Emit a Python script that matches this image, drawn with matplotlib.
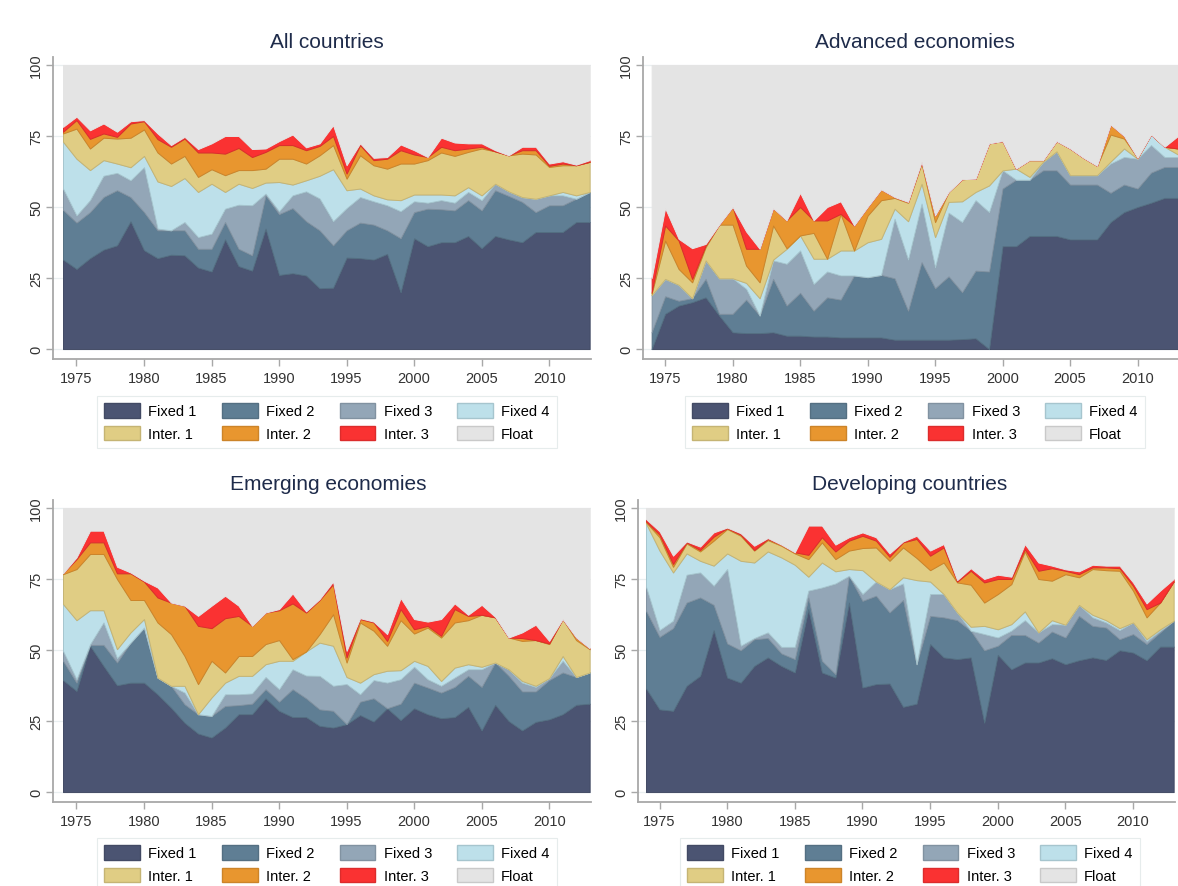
import numpy as np
import matplotlib
matplotlib.use("Agg")
import matplotlib.pyplot as plt
from matplotlib.patches import Patch
from matplotlib.colors import to_rgb

plt.rcParams['font.family'] = ['Liberation Sans', 'DejaVu Sans']

years = np.arange(1974, 2014)

layer_names = ['Fixed 1', 'Fixed 2', 'Fixed 3', 'Fixed 4',
               'Inter. 1', 'Inter. 2', 'Inter. 3', 'Float']
layer_colors = ['#4b5472', '#5f7e94', '#93a6b7', '#bde0ea',
                '#e0cd84', '#e8962f', '#fa3232', '#e4e4e4']

# values are the stacked (cumulative) tops of each regime, in percent
# --- All countries
all_f1 = [31.5, 28.2, 32, 35, 36.5, 45, 34.8, 32, 33.2, 33,
          28.7, 27.3, 38.6, 29.2, 27.6, 42.4, 26.1, 26.7, 25.9, 21.4,
          21.6, 32.2, 32, 31.5, 33.5, 20, 39, 36.2, 37.6, 37.6,
          39.8, 35.5, 39.8, 38.6, 37.6, 41.2, 41.2, 41.2, 44.7, 44.7]
all_f2 = [49, 44.5, 48.2, 53.5, 55.9, 53.5, 48.2, 41.8, 41.8, 41.8,
          35.3, 35.3, 44.7, 35.3, 33, 54.1, 47.5, 49.6, 45, 41.8,
          36.5, 41.8, 44.5, 43.8, 41.8, 39, 48.2, 49.4, 49.2, 48.8,
          52.4, 48.8, 55.9, 53.9, 51.8, 48.2, 50.6, 50.6, 52.9, 55.3]
all_f3 = [56.5, 47, 52.4, 61, 62, 59.4, 64, 42.4, 41.8, 44.7,
          39.4, 40.6, 49.4, 50.8, 50.6, 54.7, 48.5, 54.1, 55.5, 53,
          45, 49.6, 53.5, 52, 50.6, 48.5, 52, 51.5, 52.4, 51.5,
          55.3, 52.4, 58.2, 55.5, 53.5, 52.9, 54.1, 54.1, 52.9, 55.3]
all_f4 = [73, 67, 63, 66.5, 65.3, 64, 68, 59, 57.4, 60.2,
          55.3, 58.2, 55.3, 58.2, 56.7, 58.6, 58.8, 57.9, 59.4, 61,
          63.3, 55.9, 56.5, 54.1, 52.7, 52.4, 54.4, 54.4, 54.4, 54.1,
          57, 54.1, 58.2, 55.5, 53.5, 52.9, 54.1, 55.3, 54.1, 55.3]
all_i1 = [75.9, 77.6, 70.6, 74.4, 74.1, 74.4, 77.3, 69.2, 65.3, 68,
          60.6, 63.3, 61.2, 63, 63, 63.5, 67, 67, 65.3, 68.2,
          71.8, 60, 68.2, 64.7, 63.5, 65.3, 65.3, 66.5, 69.2, 68,
          69.4, 70.6, 69.6, 68.2, 68.8, 68.5, 64.1, 64.7, 64.7, 65.9]
all_i2 = [76.5, 80.6, 74, 75.9, 74.7, 79.4, 80.2, 73.9, 71.2, 74.1,
          69.2, 69.2, 68.8, 70.8, 67.6, 69.4, 71.8, 71.8, 70, 71.5,
          75, 61.8, 71.8, 66.5, 67, 70, 68.5, 67.6, 71.2, 70,
          70.6, 71.2, 69.6, 68.2, 70, 70, 64.5, 65.3, 64.7, 65.9]
all_i3 = [78.2, 81.8, 77, 79.4, 76.5, 80.2, 80.6, 75.9, 71.8, 74.7,
          70.4, 72.4, 75, 75, 70.4, 70.6, 73.2, 75.5, 71, 72.4,
          78.8, 64.7, 72.4, 67.3, 67.6, 72, 70, 67.6, 74.4, 72.7,
          72.4, 72.4, 70, 68.2, 71.2, 71.2, 65.3, 66.1, 64.9, 66.5]

# --- Advanced economies
adv_f1 = [0, 12.4, 15.3, 16.5, 18.2, 11.8, 5.9, 5.6, 5.6, 5.9,
          4.7, 4.7, 4.4, 4.4, 4.1, 4.1, 4.1, 4.1, 3.3, 3.3,
          3.3, 3.3, 3.3, 3.5, 3.8, 0, 36.2, 36.2, 39.8, 39.8,
          39.8, 38.6, 38.6, 38.6, 44.7, 48.2, 50, 51.5, 53.2, 53.2]
adv_f2 = [5.9, 18.6, 17, 17.9, 24.7, 12.4, 12.4, 17.4, 11.8, 24.7,
          15.3, 19.8, 13.5, 18.2, 17.4, 25.9, 25.3, 26.1, 24.9, 13.5,
          30.6, 21.4, 25.6, 20, 27.6, 27.3, 56.5, 59.6, 59.6, 62.9,
          62.9, 57.9, 57.9, 57.9, 55, 57.9, 56.5, 62.1, 64.1, 64.1]
adv_f3 = [19, 24.7, 22.6, 17.9, 31.2, 24.9, 24.9, 21.2, 11.8, 31.2,
          30, 34.7, 22.9, 27.3, 25.9, 25.9, 25.3, 26.1, 45.9, 31.5,
          51.2, 28.8, 48, 44.7, 52.4, 48.2, 62.9, 59.6, 59.6, 65.9,
          69.6, 61.2, 61.2, 61.2, 65.3, 67.6, 67, 71.8, 67.6, 67.6]
adv_f4 = [19, 24.7, 22.6, 17.9, 31.2, 24.9, 24.9, 23.3, 17.9, 31.5,
          35.3, 40, 31.8, 31.8, 34.7, 34.7, 37.6, 38.8, 49.4, 45,
          58.2, 39.4, 51.8, 52, 55.3, 57.6, 62.9, 63.5, 60.6, 65.9,
          69.6, 61.2, 61.2, 61.2, 66, 70.6, 67, 75.5, 71.2, 68.5]
adv_i1 = [19.5, 38.2, 28.2, 23.5, 35.9, 43.8, 43.8, 29.4, 23.5, 43.5,
          35.5, 40, 40.9, 31.8, 47.6, 34.7, 47, 52.4, 53.2, 51.5,
          65.3, 44.7, 55.3, 59.8, 60, 72.4, 73.2, 63.5, 66.5, 66.5,
          73.2, 70.6, 67.3, 64.5, 75.5, 74.1, 67.3, 75.5, 71.2, 70.6]
adv_i2 = [20, 43.5, 38.2, 24.7, 36.5, 43.8, 50, 35.3, 35.3, 49.6,
          45.3, 50, 45.3, 45.3, 47.6, 43.5, 50, 56.2, 53.5, 51.8,
          65.9, 47, 55.3, 59.8, 60, 72.4, 73.2, 63.5, 66.5, 66.5,
          73.2, 70.6, 67.3, 64.5, 79, 75, 67.3, 75.5, 71.2, 70.6]
adv_i3 = [25, 49.6, 38.8, 35.5, 37, 43.8, 50, 41.4, 35.3, 49.6,
          45.3, 55, 45.3, 50, 52, 43.5, 50, 56.2, 53.5, 51.8,
          65.9, 47, 55.3, 59.8, 60, 72.4, 73.2, 63.5, 66.5, 66.5,
          73.2, 70.6, 67.3, 64.5, 79, 75, 67.3, 75.5, 71.2, 75]

# --- Emerging economies
em_f1 = [39.4, 35.6, 51.5, 44.4, 37.6, 38.5, 38.5, 34.4, 29.7, 24.4,
         20.6, 19.2, 22.7, 27.4, 27.4, 33, 28.6, 26.4, 26.4, 23.3,
         22.7, 23.9, 27.1, 24.8, 29.5, 25.3, 29.5, 27.4, 26, 26.4,
         30, 21.7, 30.7, 25, 21.7, 24.7, 25.6, 27.4, 30.7, 31.1]
em_f2 = [46.2, 38.5, 51.8, 51.8, 45.6, 52.6, 57.9, 40.3, 37.4, 30.9,
         27.4, 26.8, 30.3, 30.6, 31.1, 36.2, 31.8, 36.2, 33, 29.1,
         28.6, 23.9, 31.8, 33, 29.1, 31.1, 38.5, 36.8, 35, 37,
         40.9, 37, 45.6, 40.9, 35.4, 35.4, 39.4, 42.1, 40.5, 42.1]
em_f3 = [49.7, 39.7, 52, 59.7, 47.1, 52.6, 57.9, 40.3, 37.4, 35,
         27.4, 26.8, 34.4, 34.4, 34.7, 40.5, 36.2, 43.2, 41, 40.9,
         37.4, 38, 34.4, 39.4, 38.5, 39.7, 44.1, 39.7, 37.4, 40.3,
         43.2, 43.2, 45.6, 43.2, 38.5, 37, 40.1, 46.2, 40.5, 42.1]
em_f4 = [66.2, 60.5, 64, 64, 50.3, 56.2, 60.9, 40.3, 37.4, 37.4,
         27.4, 33.3, 38.5, 40.9, 40.9, 45, 46.2, 46.2, 49.5, 52.6,
         51.5, 40.5, 38.5, 41.5, 42.7, 42.9, 46.2, 44.4, 39.1, 43.8,
         45, 44.1, 45.6, 43.2, 39.1, 37.4, 40.1, 47.9, 40.5, 42.1]
em_i1 = [76.7, 78.5, 83.8, 83.8, 75, 67.6, 67.6, 59.7, 55.6, 47.9,
         38, 46.2, 42.1, 47.9, 47.9, 52.1, 53.5, 46.8, 49.5, 55.6,
         62.6, 45.6, 59.7, 56.8, 51.5, 60.5, 55.8, 57.9, 54.4, 59.7,
         60.5, 62.4, 61.5, 54.4, 53.2, 53.5, 52.1, 60.9, 53.5, 50.3]
em_i2 = [77, 82, 87.9, 87.9, 77, 77, 74.1, 68.5, 66.7, 65.6,
         58.5, 57.7, 61.2, 62, 58.5, 63.2, 64, 66.4, 63.2, 67.6,
         73.2, 47.4, 60.9, 59.7, 53.2, 64.4, 57.3, 58.5, 55, 64.4,
         62, 62.4, 61.5, 54.4, 54.2, 53.5, 52.3, 60.9, 54.4, 50.6]
em_i3 = [77, 82.6, 92, 92, 79.3, 77.3, 74.4, 72, 66.7, 65.6,
         62, 65.6, 69.1, 65.6, 58.5, 63.2, 64.4, 69.9, 63.6, 67.9,
         74.1, 49.7, 61.2, 60, 55.6, 68.3, 60.9, 60, 60.9, 66.4,
         62.4, 65.9, 61.7, 54.4, 56.2, 58.9, 53.2, 60.9, 53.8, 50.6]

# --- Developing countries
dev_f1 = [36.5, 29.1, 28.6, 37.4, 40.9, 57, 40.3, 38.5, 44.4, 47.4,
          44.4, 42.1, 64.4, 42.1, 40.3, 66.7, 36.8, 38, 38.2, 30,
          31.1, 52.1, 47.4, 46.8, 47.4, 24.4, 48.3, 43.2, 45.6, 45.6,
          47.1, 45, 46.4, 47.4, 46.5, 49.9, 49.1, 46.4, 51.2, 51.2]
dev_f2 = [63.8, 54.6, 57.7, 66.7, 68.5, 65.9, 52.3, 49.9, 53.8, 54.2,
          48.8, 46.8, 68.5, 46.2, 41.5, 76.1, 67.3, 69.1, 63.2, 67.6,
          45, 62, 61.5, 60.5, 56.8, 49.9, 51.5, 55.3, 55.3, 52.6,
          56.5, 54.4, 62, 58.5, 57.9, 53.8, 55.6, 52.1, 56.2, 60.3]
dev_f3 = [72.3, 57, 60.3, 76.5, 77.3, 72.6, 78.5, 51.5, 54.2, 56.2,
          51.1, 51.1, 70.9, 72, 73.4, 76.1, 69.7, 74.1, 71.4, 73.4,
          45, 69.7, 69.7, 63.2, 56.8, 55.6, 54.4, 56.8, 60.5, 56.2,
          59.1, 58.9, 65.9, 61.5, 59.7, 57, 59.7, 53.2, 56.8, 60.3]
dev_f4 = [94.6, 85, 77.3, 84, 81.4, 79.7, 84, 81.4, 80.8, 84.7,
          82.6, 80, 75.8, 80.8, 77.7, 78.5, 78.1, 74.1, 71.4, 75.6,
          74.6, 74.1, 69.7, 63.2, 58.2, 58.5, 57.3, 59.1, 63.6, 56.2,
          60.5, 58.9, 65.9, 62.4, 60.5, 57.7, 59.7, 53.8, 57.3, 60.3]
dev_i1 = [95, 89.7, 79.3, 87.5, 84.7, 88.5, 92.6, 90.2, 85, 88.7,
          86.7, 84, 82, 87.9, 82, 85, 85.9, 86.1, 81.4, 86.1,
          82.4, 78.1, 80.8, 73.8, 73, 66.7, 69.7, 73.2, 84.7, 75,
          74.4, 76.7, 75.6, 78.5, 78.1, 77.9, 70.9, 61.5, 66.7, 74.1]
dev_i2 = [95.3, 90.6, 80.3, 87.9, 85.2, 89.9, 92.9, 90.6, 85.2, 89.1,
          87.1, 84.4, 83.5, 89.7, 84.7, 88.5, 90.2, 88.5, 82.8, 87.9,
          89.1, 83.2, 86.1, 74.1, 77.9, 73.8, 75, 75, 85.5, 77.9,
          78.8, 77.9, 76.7, 79.1, 79.1, 78.8, 72.6, 64.4, 66.7, 74.1]
dev_i3 = [96.1, 91.8, 83.2, 88.2, 86.4, 91.4, 93.1, 91.1, 86.7, 89.4,
          87.1, 84.4, 93.8, 93.8, 87.1, 89.7, 91.4, 89.7, 84, 88.2,
          90.2, 85, 87.3, 74.6, 78.8, 75, 76.5, 75.8, 87.3, 80.8,
          79.7, 78.4, 77.7, 80, 79.7, 79.7, 73.8, 66.4, 70.9, 75]

W, H = 1178, 887


def darker(c, f=0.88):
    r, g, b = to_rgb(c)
    return (r * f, g * f, b * f)


def draw_panel(rect, xlim, title, title_xy, legend_xy, tops):
    # rect in pixels: left, top, right, bottom
    l, t, r, b = rect
    ax = plt.gcf().add_axes([l / W, 1 - b / H, (r - l) / W, (b - t) / H])
    ax.set_xlim(*xlim)
    ax.set_ylim(-3.5, 102.8)
    ax.set_yticks([0, 25, 50, 75, 100])
    ax.set_xticks(range(1975, 2011, 5))
    for v in [0, 25, 50, 75, 100]:
        ax.axhline(v, color='#e9eff0', lw=0.9, zorder=0)

    levels = [np.zeros(len(years))]
    for s in tops:
        levels.append(np.maximum(np.asarray(s, float), levels[-1]))
    levels.append(np.full(len(years), 100.0))
    for i in range(8):
        ec = darker(layer_colors[i]) if i < 7 else layer_colors[i]
        ax.fill_between(years, levels[i], levels[i + 1],
                        facecolor=layer_colors[i], edgecolor=ec,
                        lw=0.7, zorder=2 + i * 0.01)

    for side in ['top', 'right']:
        ax.spines[side].set_visible(False)
    for side in ['left', 'bottom']:
        ax.spines[side].set_color('#a8a8a8')
        ax.spines[side].set_linewidth(1.3)
    ax.tick_params(axis='both', colors='#a8a8a8', length=5, width=1,
                   labelcolor='#333333', labelsize=10.5)
    ax.tick_params(axis='y', pad=2)
    ax.tick_params(axis='x', pad=4)
    for lab in ax.get_yticklabels():
        lab.set_rotation(90)
        lab.set_va('center')

    fig = plt.gcf()
    fig.text(title_xy[0] / W, 1 - title_xy[1] / H, title, ha='center',
             va='center', fontsize=15, color='#1e2b4a')

    handles = [Patch(facecolor=c, edgecolor=darker(c), lw=1)
               for c in layer_colors]
    order = [0, 4, 1, 5, 2, 6, 3, 7]
    leg = fig.legend([handles[k] for k in order],
                     [layer_names[k] for k in order],
                     loc='upper center',
                     bbox_to_anchor=(legend_xy[0] / W, 1 - legend_xy[1] / H),
                     bbox_transform=fig.transFigure, ncol=4, fontsize=10.5,
                     handlelength=2.45, handleheight=1.15,
                     handletextpad=0.55, columnspacing=1.75,
                     labelspacing=0.5, borderpad=0.5, fancybox=False,
                     framealpha=1, edgecolor='#e6ecec', borderaxespad=0)
    leg.get_frame().set_linewidth(0.8)
    return ax


fig = plt.figure(figsize=(W / 100, H / 100), dpi=100)
fig.patch.set_facecolor('white')

draw_panel((53, 58, 591, 360), (1973.26, 2013.1), 'All countries',
           (327, 43), (327, 397),
           [all_f1, all_f2, all_f3, all_f4, all_i1, all_i2, all_i3])
draw_panel((643, 58, 1178, 360), (1973.36, 2013.0), 'Advanced economies',
           (915, 43), (915, 397),
           [adv_f1, adv_f2, adv_f3, adv_f4, adv_i1, adv_i2, adv_i3])
draw_panel((53, 501, 591, 803), (1973.26, 2013.1), 'Emerging economies',
           (328, 485), (327, 839),
           [em_f1, em_f2, em_f3, em_f4, em_i1, em_i2, em_i3])
draw_panel((638, 501, 1175, 803), (1973.41, 2013.1), 'Developing countries',
           (910, 485), (910, 839),
           [dev_f1, dev_f2, dev_f3, dev_f4, dev_i1, dev_i2, dev_i3])

fig.savefig('out.png', dpi=100)
